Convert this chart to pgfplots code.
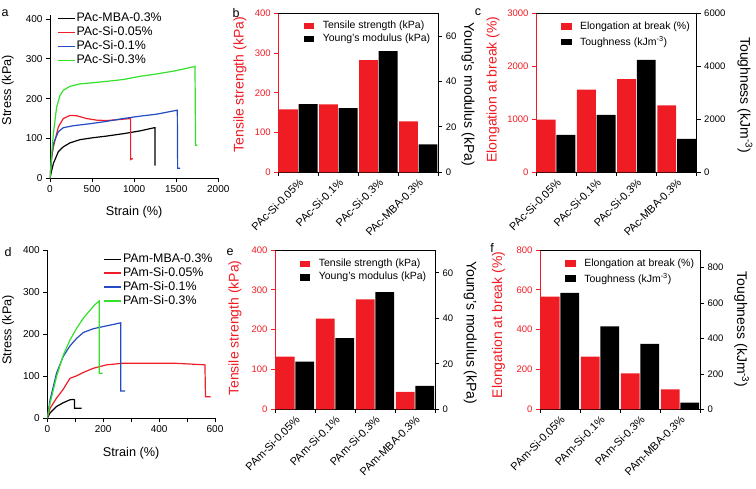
\documentclass[border=0pt]{standalone}
\usepackage{fontspec}
\setmainfont{Liberation Sans}
\usepackage{pgfplots}
\pgfplotsset{compat=1.18}
\definecolor{bred}{RGB}{240,28,36}
\definecolor{cgreen}{RGB}{50,225,40}
\definecolor{cblue}{RGB}{35,75,195}
\definecolor{cred}{RGB}{240,30,40}
\pgfplotsset{
  every axis/.append style={scale only axis, /pgf/number format/assume math mode=true, /pgf/number format/1000 sep={}, scaled ticks=false, tick align=outside, major tick length=4pt, minor tick length=4pt},
  lineax/.style={axis lines*=left, axis line style={line width=0.8pt, -}, every tick/.style={black, line width=0.8pt},
    tick label style={font=\fontsize{10}{10}\selectfont},
    legend cell align=left, legend style={draw=none, fill=none, font=\fontsize{12.4}{12.4}\selectfont, row sep=1.5pt, nodes={inner sep=1pt}},
    every axis plot/.append style={line width=1.2pt}},
  barL/.style={xmin=0.5, xmax=4.5, ymin=0, axis x line*=bottom, axis y line*=left, xtick={1,2,3,4},
    minor xtick={0.5,1.5,2.5,3.5,4.5}, major x tick style={draw=none}, minor x tick style={black, line width=0.8pt},
    xticklabel style={rotate=45, anchor=north east, font=\fontsize{11}{11}\selectfont, inner sep=1pt},
    y axis line style={bred, line width=0.8pt}, x axis line style={black, line width=0.8pt},
    ytick style={bred, line width=0.8pt}, yticklabel style={bred, font=\fontsize{9.5}{9.5}\selectfont}},
  barR/.style={xmin=0.5, xmax=4.5, ymin=0, axis x line*=top, axis y line*=right, xtick=\empty,
    axis line style={black, line width=0.8pt}, ytick style={black, line width=0.8pt},
    yticklabel style={black, font=\fontsize{9.5}{9.5}\selectfont},
    legend cell align=left, legend style={draw=none, fill=none, font=\fontsize{10.5}{10.5}\selectfont, row sep=1pt, nodes={inner sep=1.5pt}, /tikz/every odd column/.append style={column sep=7.5pt}}},
  redsq/.style={legend image code/.code={\fill[bred] (0pt,-2.8pt) rectangle (9.5pt,2.8pt);}},
  blksq/.style={legend image code/.code={\fill[black] (0pt,-2.8pt) rectangle (9.5pt,2.8pt);}},
  rbar/.style={ybar, bar width=0.47, bar shift=-0.245, fill=bred, draw=none},
  kbar/.style={ybar, bar width=0.47, bar shift=0.245, fill=black, draw=none, forget plot},
  ylabL/.style={every axis y label/.style={at={(axis description cs:#1)}, rotate=90, anchor=center, font=\fontsize{14}{14}\selectfont, text=bred}},
  ylabR/.style={every axis y label/.style={at={(axis description cs:#1)}, rotate=-90, anchor=center, font=\fontsize{14}{14}\selectfont, text=black}},
}
\begin{document}
\begin{tikzpicture}
\useasboundingbox (0,0) rectangle (756pt,488pt);
% panel labels
\node[font=\fontsize{12.5}{12.5}\selectfont] at (5pt,475pt) {a};
\node[font=\fontsize{12.5}{12.5}\selectfont] at (236pt,475pt) {b};
\node[font=\fontsize{12.5}{12.5}\selectfont] at (478pt,476pt) {c};
\node[font=\fontsize{12.5}{12.5}\selectfont] at (8pt,236pt) {d};
\node[font=\fontsize{12.5}{12.5}\selectfont] at (230pt,236pt) {e};
\node[font=\fontsize{12.5}{12.5}\selectfont] at (492pt,240pt) {f};

% ---------- a ----------
\begin{axis}[lineax, at={(50pt,309.7pt)}, anchor=south west, width=168.3pt, height=163.3pt,
  xmin=0, xmax=2000, ymin=0, ymax=410, xtick={0,500,1000,1500,2000}, ytick={0,100,200,300,400},
  xlabel={Strain (\%)}, ylabel={Stress (kPa)},
  every axis x label/.style={at={(axis description cs:0.5,-0.208)}, anchor=center, font=\fontsize{12.7}{13}\selectfont},
  every axis y label/.style={at={(axis description cs:-0.25,0.54)}, rotate=90, anchor=center, font=\fontsize{12.7}{13}\selectfont},
  legend style={at={(axis description cs:0.024,1.03)}, anchor=north west}]
\addplot[black] coordinates {(0,0) (20,20) (40,37) (99,67) (158,79) (238,89) (356,97) (515,102) (673,106) (871,112) (1069,119) (1240,127) (1248,127) (1248,32)};
\addlegendentry{PAc-MBA-0.3\%}
\addplot[cred] coordinates {(0,0) (20,50) (40,79) (99,129) (158,150) (238,158) (317,157) (436,150) (554,146) (673,145) (792,147) (958,150) (958,47) (985,50)};
\addlegendentry{PAc-Si-0.05\%}
\addplot[cblue] coordinates {(0,0) (20,55) (40,87) (99,117) (158,127) (277,132) (475,137) (673,143) (871,150) (1069,156) (1267,161) (1513,171) (1517,25) (1545,25)};
\addlegendentry{PAc-Si-0.1\%}
\addplot[cgreen] coordinates {(0,0) (20,60) (40,112) (79,179) (119,208) (158,221) (238,231) (356,237) (515,240) (700,244) (871,248) (1069,256) (1267,262) (1465,269) (1600,275) (1723,281) (1730,83) (1750,83)};
\addlegendentry{PAc-Si-0.3\%}
\end{axis}

% ---------- b ----------
\begin{axis}[barL, at={(278.3pt,315.7pt)}, anchor=south west, width=160pt, height=159pt,
  ymax=400, ytick={0,100,200,300,400},
  xticklabels={PAc-Si-0.05\%, PAc-Si-0.1\%, PAc-Si-0.3\%, PAc-MBA-0.3\%},
  ylabL={-0.24,0.55}, ylabel={Tensile strength (kPa)}]
\addplot[rbar] coordinates {(1,158) (2,171) (3,282) (4,128)};
\end{axis}
\begin{axis}[barR, at={(278.3pt,315.7pt)}, anchor=south west, width=160pt, height=159pt,
  ymax=70, ytick={0,20,40,60}, ylabR={1.186,0.49}, ylabel={Young's modulus (kPa)},
  legend style={at={(axis description cs:0.14,0.975)}, anchor=north west}]
\addlegendimage{redsq}
\addlegendentry{Tensile strength (kPa)}
\addlegendimage{blksq}
\addlegendentry{Young's modulus (kPa)}
\addplot[kbar] coordinates {(1,30) (2,28.2) (3,53.4) (4,12.3)};
\end{axis}

% ---------- c ----------
\begin{axis}[barL, at={(536pt,315.7pt)}, anchor=south west, width=160.7pt, height=159pt,
  ymax=3000, ytick={0,1000,2000,3000},
  xticklabels={PAc-Si-0.05\%, PAc-Si-0.1\%, PAc-Si-0.3\%, PAc-MBA-0.3\%},
  ylabL={-0.268,0.52}, ylabel={Elongation at break (\%)}]
\addplot[rbar] coordinates {(1,995) (2,1560) (3,1760) (4,1262)};
\end{axis}
\begin{axis}[barR, at={(536pt,315.7pt)}, anchor=south west, width=160.7pt, height=159pt,
  ymax=6000, ytick={0,2000,4000,6000}, ylabR={1.30,0.485}, ylabel={Toughness (kJm\textsuperscript{-3})},
  legend style={at={(axis description cs:0.137,0.97)}, anchor=north west, row sep=2.5pt}]
\addlegendimage{redsq}
\addlegendentry{Elongation at break (\%)}
\addlegendimage{blksq}
\addlegendentry{Toughness (kJm\textsuperscript{-3})}
\addplot[kbar] coordinates {(1,1409) (2,2164) (3,4239) (4,1258)};
\end{axis}

% ---------- d ----------
\begin{axis}[lineax, at={(47.3pt,69.7pt)}, anchor=south west, width=167.7pt, height=168.3pt,
  xmin=0, xmax=600, ymin=0, ymax=400, xtick={0,200,400,600}, minor xtick={100,300,500}, ytick={0,100,200,300,400},
  xlabel={Strain (\%)}, ylabel={Stress (kPa)},
  every axis x label/.style={at={(axis description cs:0.5,-0.208)}, anchor=center, font=\fontsize{12.7}{13}\selectfont},
  every axis y label/.style={at={(axis description cs:-0.234,0.525)}, rotate=90, anchor=center, font=\fontsize{12.7}{13}\selectfont},
  legend style={at={(axis description cs:0.318,0.995)}, anchor=north west}]
\addplot[black] coordinates {(0,0) (10,13) (33,28) (57,37) (81,44) (93,45) (97,44) (97,24) (123,24)};
\addlegendentry{PAm-MBA-0.3\%}
\addplot[cred] coordinates {(0,0) (10,24) (33,48) (57,69) (81,95) (105,101) (129,109) (165,119) (212,127) (272,131) (332,131) (451,131) (510,129) (564,127) (566,51) (584,51)};
\addlegendentry{PAm-Si-0.05\%}
\addplot[cblue] coordinates {(0,0) (10,44) (33,107) (57,147) (81,172) (105,190) (129,204) (165,213) (200,218) (236,223) (263,227) (263,65) (278,65)};
\addlegendentry{PAm-Si-0.1\%}
\addplot[cgreen] coordinates {(0,0) (10,36) (33,99) (57,150) (81,186) (105,214) (129,238) (153,257) (170,270) (186,279) (186,107) (198,107)};
\addlegendentry{PAm-Si-0.3\%}
\end{axis}

% ---------- e ----------
\begin{axis}[barL, at={(275pt,78.7pt)}, anchor=south west, width=160pt, height=159.3pt,
  ymax=400, ytick={0,100,200,300,400},
  xticklabels={PAm-Si-0.05\%, PAm-Si-0.1\%, PAm-Si-0.3\%, PAm-MBA-0.3\%},
  ylabL={-0.25,0.51}, ylabel={Tensile strength (kPa)}]
\addplot[rbar] coordinates {(1,132) (2,228) (3,276) (4,44)};
\end{axis}
\begin{axis}[barR, at={(275pt,78.7pt)}, anchor=south west, width=160pt, height=159.3pt,
  ymax=70, ytick={0,20,40,60}, ylabR={1.22,0.48}, ylabel={Young's modulus (kPa)},
  legend style={at={(axis description cs:0.136,0.965)}, anchor=north west}]
\addlegendimage{redsq}
\addlegendentry{Tensile strength (kPa)}
\addlegendimage{blksq}
\addlegendentry{Young's modulus (kPa)}
\addplot[kbar] coordinates {(1,21) (2,31.3) (3,51.5) (4,10.3)};
\end{axis}

% ---------- f ----------
\begin{axis}[barL, at={(540pt,78.7pt)}, anchor=south west, width=160pt, height=159.3pt,
  ymax=800, ytick={0,200,400,600,800},
  xticklabels={PAm-Si-0.05\%, PAm-Si-0.1\%, PAm-Si-0.3\%, PAm-MBA-0.3\%},
  ylabL={-0.26,0.53}, ylabel={Elongation at break (\%)}]
\addplot[rbar] coordinates {(1,566) (2,264) (3,181) (4,100)};
\end{axis}
\begin{axis}[barR, at={(540pt,78.7pt)}, anchor=south west, width=160pt, height=159.3pt,
  ymax=900, ytick={0,200,400,600,800}, ylabR={1.26,0.50}, ylabel={Toughness (kJm\textsuperscript{-3})},
  legend style={at={(axis description cs:0.139,0.97)}, anchor=north west, row sep=2.5pt}]
\addlegendimage{redsq}
\addlegendentry{Elongation at break (\%)}
\addlegendimage{blksq}
\addlegendentry{Toughness (kJm\textsuperscript{-3})}
\addplot[kbar] coordinates {(1,658) (2,469) (3,369) (4,38)};
\end{axis}
\end{tikzpicture}
\end{document}
